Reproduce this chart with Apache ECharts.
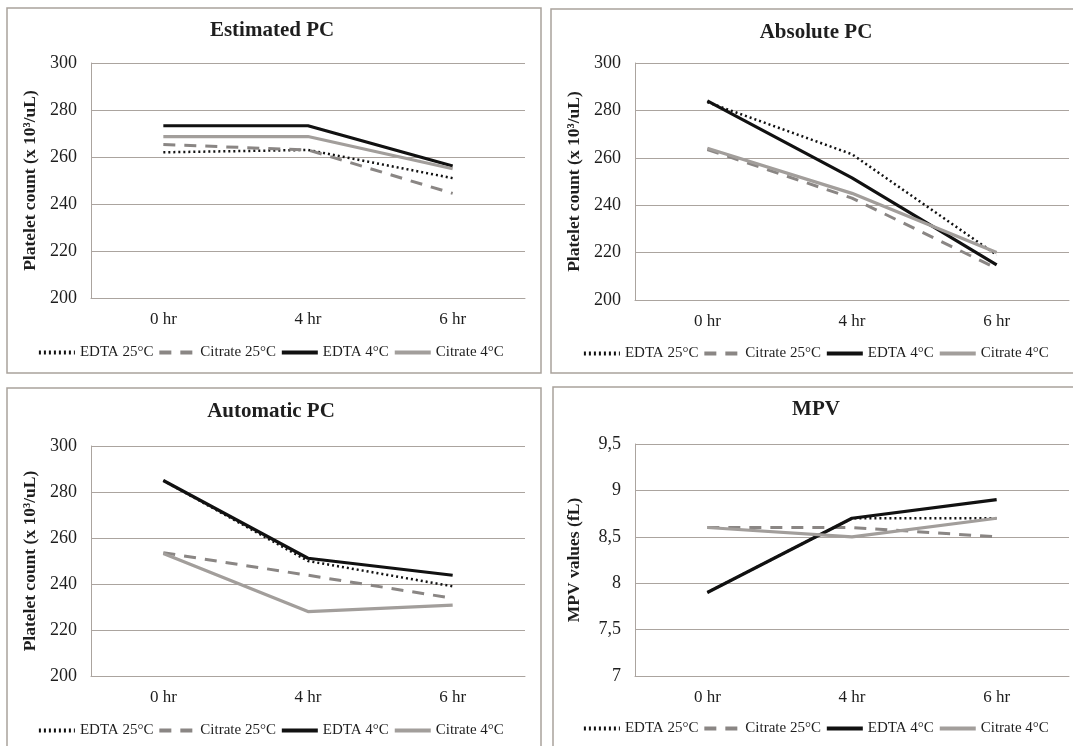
<!DOCTYPE html>
<html>
<head>
<meta charset="utf-8">
<script src="https://cdn.jsdelivr.net/npm/echarts@6/dist/echarts.min.js"></script>
<style>
html,body{margin:0;padding:0;background:#fff;}
#chart{width:1073px;height:746px;}
</style>
</head>
<body>
<div id="chart"></div>
<script>
// ---- data ----
var categories = ['0 hr', '4 hr', '6 hr'];
var seriesNames = ['EDTA 25°C', 'Citrate 25°C', 'EDTA 4°C', 'Citrate 4°C'];
var panelTitles = ['Estimated PC', 'Absolute PC', 'Automatic PC', 'MPV'];
var yAxisNames = ['Platelet count (x 10³/uL)', 'Platelet count (x 10³/uL)', 'Platelet count (x 10³/uL)', 'MPV values (fL)'];

var estEdta25 = [262, 263, 251];
var estCit25  = [265.3, 263, 244.5];
var estEdta4  = [273.3, 273.3, 256.2];
var estCit4   = [268.7, 268.7, 255];

var absEdta25 = [283.5, 261.5, 219];
var absCit25  = [263.5, 243, 213.3];
var absEdta4  = [284, 251.5, 214.8];
var absCit4   = [264, 245, 220];

var autoEdta25 = [285, 250, 239];
var autoCit25  = [253.6, 243.8, 233.8];
var autoEdta4  = [285, 251.2, 243.8];
var autoCit4   = [253.3, 228, 230.8];

var mpvEdta25 = [7.9, 8.7, 8.7];
var mpvCit25  = [8.6, 8.6, 8.5];
var mpvEdta4  = [7.9, 8.7, 8.9];
var mpvCit4   = [8.6, 8.5, 8.7];

var pcTicks  = ['200', '220', '240', '260', '280', '300'];
var mpvTicks = ['7', '7,5', '8', '8,5', '9', '9,5'];

// ---- layout ----
var FONT = '"Liberation Serif", "Times New Roman", serif';
var GRID_C = '#aba49f';
var BORDER_C = '#a9a29c';
var TEXT_C = '#1e1e1e';

var panels = [
  {grid: {left: 91, top: 63, width: 434, height: 235}, box: [7, 8, 534, 365], title: [272, 31], legend: [37, 345],
   data: [estEdta25, estCit25, estEdta4, estCit4], min: 200, max: 300, interval: 20, ticks: pcTicks},
  {grid: {left: 635, top: 63, width: 434, height: 237}, box: [551, 9, 530, 364], title: [816, 33], legend: [582, 346],
   data: [absEdta25, absCit25, absEdta4, absCit4], min: 200, max: 300, interval: 20, ticks: pcTicks},
  {grid: {left: 91, top: 446, width: 434, height: 230}, box: [7, 388, 534, 370], title: [271, 412], legend: [37, 723],
   data: [autoEdta25, autoCit25, autoEdta4, autoCit4], min: 200, max: 300, interval: 20, ticks: pcTicks},
  {grid: {left: 635, top: 444, width: 434, height: 232}, box: [553, 387, 530, 370], title: [816, 410], legend: [582, 721],
   data: [mpvEdta25, mpvCit25, mpvEdta4, mpvCit4], min: 7, max: 9.5, interval: 0.5, ticks: mpvTicks}
];

var lineStyles = [
  {color: '#111111', width: 2.5, type: [2, 3]},
  {color: '#8a8684', width: 3, type: [12, 9]},
  {color: '#111111', width: 3.2, type: 'solid'},
  {color: '#a29e9b', width: 3.2, type: 'solid'}
];

var option = {
  animation: false,
  backgroundColor: '#ffffff',
  grid: [], xAxis: [], yAxis: [], series: [], legend: [], graphic: []
};

panels.forEach(function (p, i) {
  option.grid.push(p.grid);
  option.xAxis.push({
    type: 'category', gridIndex: i, data: categories, boundaryGap: true,
    axisTick: {show: false},
    axisLine: {show: true, lineStyle: {color: GRID_C, width: 1}},
    axisLabel: {color: TEXT_C, fontFamily: FONT, fontSize: 17, margin: 13}
  });
  (function (pp) {
    option.yAxis.push({
      type: 'value', gridIndex: i, min: pp.min, max: pp.max, interval: pp.interval,
      name: yAxisNames[i], nameLocation: 'middle', nameGap: 52,
      nameTextStyle: {color: TEXT_C, fontFamily: FONT, fontSize: 17.5, fontWeight: 'bold'},
      axisTick: {show: false},
      axisLine: {show: true, lineStyle: {color: GRID_C, width: 1}},
      splitLine: {show: true, lineStyle: {color: GRID_C, width: 1}},
      axisLabel: {
        color: TEXT_C, fontFamily: FONT, fontSize: 18, margin: 14,
        formatter: function (v) {
          var idx = Math.round((v - pp.min) / pp.interval);
          return pp.ticks[idx] !== undefined ? pp.ticks[idx] : String(v);
        }
      }
    });
  })(p);
  seriesNames.forEach(function (name, k) {
    option.series.push({
      type: 'line', name: name, xAxisIndex: i, yAxisIndex: i,
      data: p.data[k], symbol: 'none', showSymbol: false,
      lineStyle: lineStyles[k], itemStyle: {color: lineStyles[k].color},
      emphasis: {disabled: true}
    });
  });
  option.legend.push({
    data: seriesNames, left: p.legend[0], top: p.legend[1], orient: 'horizontal',
    itemWidth: 36, itemHeight: 14, itemGap: 4, padding: 0, selectedMode: false,
    itemStyle: {opacity: 0},
    lineStyle: {width: 3.8},
    textStyle: {color: TEXT_C, fontFamily: FONT, fontSize: 15}
  });
  option.graphic.push({
    type: 'rect', silent: true, z: -1,
    shape: {x: p.box[0], y: p.box[1], width: p.box[2], height: p.box[3]},
    style: {fill: 'none', stroke: BORDER_C, lineWidth: 1.5}
  });
  option.graphic.push({
    type: 'text', silent: true,
    x: p.title[0], y: p.title[1],
    style: {text: panelTitles[i], fill: TEXT_C, font: 'bold 21px ' + FONT, textAlign: 'center', textVerticalAlign: 'middle'}
  });
});

var chart = echarts.init(document.getElementById('chart'), null, {renderer: 'canvas'});
chart.setOption(option);
</script>
</body>
</html>
